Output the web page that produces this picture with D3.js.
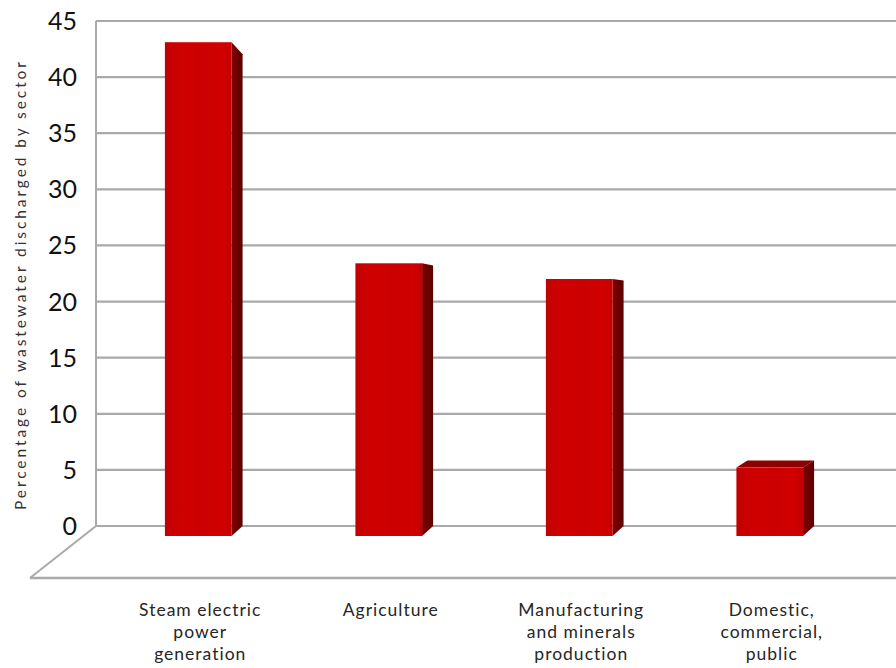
<!DOCTYPE html>
<html>
<head>
<meta charset="utf-8">
<script src="https://cdn.jsdelivr.net/npm/d3@7"></script>
<style>
  html, body { margin: 0; padding: 0; background: #ffffff; }
  svg { display: block; }
</style>
</head>
<body>
<svg id="chart" width="896" height="668"></svg>
<script>
// ---- data ----
const categories = [
  ["Steam electric", "power", "generation"],
  ["Agriculture"],
  ["Manufacturing", "and minerals", "production"],
  ["Domestic,", "commercial,", "public"]
];
const values = [44, 24.3, 22.9, 6.1];
const yTicks = [0, 5, 10, 15, 20, 25, 30, 35, 40, 45];
const yTitle = "Percentage of wastewater discharged by sector";

// ---- layout ----
const W = 896, H = 668;
const wallX = 96, rightX = 896;
const svg = d3.select("#chart");

const y = d3.scaleLinear().domain([0, 45]).range([526, 21]);
const x = d3.scaleBand().domain(d3.range(categories.length)).range([103, 865])
  .paddingInner(0.65).paddingOuter(0.325);

const frontOffset = 10;      // front plane of bars shifted down
const sideDx = 11;           // depth of bars horizontally
// vertical perspective for side-face: offset depends on height
const dyAt = yy => 13.9 - 0.0446 * yy;

const gridColor = "#a9a9a9";

// gridlines on back wall
svg.append("g").selectAll("line").data(yTicks).join("line")
  .attr("x1", wallX).attr("x2", rightX)
  .attr("y1", d => y(d)).attr("y2", d => y(d))
  .attr("stroke", gridColor).attr("stroke-width", 2.2);

// left wall edge
svg.append("line")
  .attr("x1", wallX).attr("x2", wallX)
  .attr("y1", y(45)).attr("y2", y(0))
  .attr("stroke", gridColor).attr("stroke-width", 2);

// floor edges
const floorFrontY = 578, floorFrontX = 30;
svg.append("line")
  .attr("x1", wallX).attr("y1", y(0)).attr("x2", floorFrontX).attr("y2", floorFrontY)
  .attr("stroke", gridColor).attr("stroke-width", 2);
svg.append("line")
  .attr("x1", floorFrontX).attr("y1", floorFrontY).attr("x2", rightX).attr("y2", floorFrontY)
  .attr("stroke", gridColor).attr("stroke-width", 2.4);

// y tick labels
svg.append("g").selectAll("text").data(yTicks).join("text")
  .attr("x", 77).attr("y", d => y(d))
  .attr("dy", "0.36em")
  .attr("text-anchor", "end")
  .attr("font-family", "Lato, 'Open Sans', sans-serif")
  .attr("font-size", 25)
  .attr("fill", "#111")
  .text(d => d);

// y title
svg.append("text")
  .attr("transform", "translate(21,286) rotate(-90)")
  .attr("text-anchor", "middle")
  .attr("dy", "0.35em")
  .attr("font-family", "Lato, 'Open Sans', sans-serif")
  .attr("font-size", 15.5)
  .attr("fill", "#333")
  .attr("textLength", 448)
  .attr("lengthAdjust", "spacing")
  .text(yTitle);

// gradients
const defs = svg.append("defs");
const gFront = defs.append("linearGradient").attr("id", "front").attr("x1", "0").attr("x2", "1");
[["0%", "#c20000"], ["25%", "#d00000"], ["60%", "#cc0000"], ["85%", "#d20000"], ["100%", "#c40000"]]
  .forEach(([o, c]) => gFront.append("stop").attr("offset", o).attr("stop-color", c));
const gSide = defs.append("linearGradient").attr("id", "side").attr("x1", "0").attr("x2", "1");
[["0%", "#820000"], ["100%", "#5a0000"]]
  .forEach(([o, c]) => gSide.append("stop").attr("offset", o).attr("stop-color", c));

// bars
const bars = svg.append("g").selectAll("g").data(values).join("g");
bars.each(function(v, i) {
  const g = d3.select(this);
  const xl = x(i), xr = x(i) + x.bandwidth();
  const yt = y(v) + frontOffset, yb = y(0) + frontOffset;
  const dt = dyAt(yt), db = dyAt(yb);
  // top face (visible when looking down on it)
  if (dt < 0) {
    g.append("path")
      .attr("d", `M${xl},${yt} L${xl + sideDx},${yt + dt} L${xr + sideDx},${yt + dt} L${xr},${yt} Z`)
      .attr("fill", "#8e0000");
  }
  // side face
  g.append("path")
    .attr("d", `M${xr},${yt} L${xr + sideDx},${yt + dt} L${xr + sideDx},${yb + db} L${xr},${yb} Z`)
    .attr("fill", "url(#side)");
  // front face
  g.append("rect")
    .attr("x", xl).attr("y", yt)
    .attr("width", x.bandwidth()).attr("height", yb - yt)
    .attr("fill", "url(#front)");
});

// category labels
const lab = svg.append("g").selectAll("text").data(categories).join("text")
  .attr("text-anchor", "middle")
  .attr("font-family", "Lato, 'Open Sans', sans-serif")
  .attr("font-size", 17.5)
  .attr("letter-spacing", 1)
  .attr("fill", "#262626");
lab.each(function(lines, i) {
  const t = d3.select(this);
  lines.forEach((s, k) => {
    t.append("tspan")
      .attr("x", x(i) + x.bandwidth() / 2 + 2)
      .attr("y", 616 + k * 22)
      .text(s);
  });
});
</script>
</body>
</html>
